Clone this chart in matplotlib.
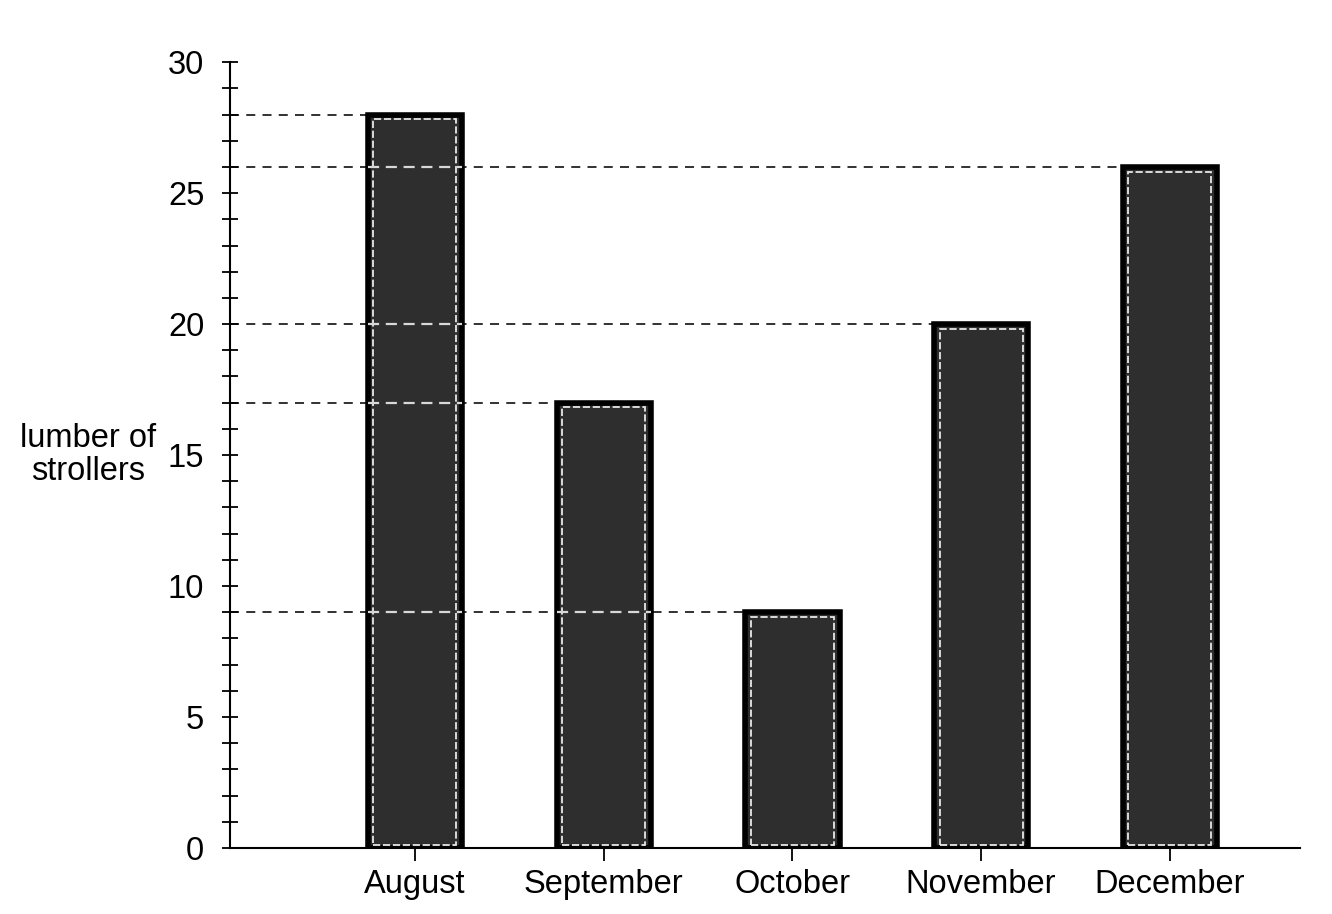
import matplotlib.pyplot as plt
from matplotlib.ticker import MultipleLocator

months = ['August', 'September', 'October', 'November', 'December']
strollers = [28, 17, 9, 20, 26]
y_ticks = [0, 5, 10, 15, 20, 25, 30]

plt.rcParams['font.family'] = ['Liberation Sans', 'DejaVu Sans']

fig = plt.figure(figsize=(13.32, 9.14), dpi=100)
ax = fig.add_axes([0.1727, 0.0722, 0.8033, 0.8598])

x = list(range(1, len(months) + 1))
bar_w = 0.5

# bars: dark fill, black outline, thin white inner line
ax.bar(x, strollers, width=bar_w, color='#2e2e2e', edgecolor='black',
       linewidth=4, zorder=2)
ax.bar(x, [v - 0.3 for v in strollers], bottom=0.12, width=bar_w - 0.06,
       fill=False, edgecolor='#e8e8e8', linewidth=1.3, linestyle=(0, (4, 1.5)),
       zorder=3)

# dashed guide lines from axis to each bar top
for xi, v in zip(x, strollers):
    left = xi - bar_w / 2
    ax.hlines(v, 0.02, left, colors='#222222', linestyles=(0, (5, 4)),
              linewidth=1.3, zorder=1)
    # where the line passes through taller bars it shows light
    for xj, vj in zip(x, strollers):
        if xj < xi and vj > v:
            ax.hlines(v, xj - bar_w / 2, xj + bar_w / 2, colors='#d8d8d8',
                      linestyles=(0, (5, 3)), linewidth=1.6, zorder=4)

ax.set_xlim(0.02, 5.69)
ax.set_ylim(0, 30)
ax.set_xticks(x)
ax.set_xticklabels(months)
ax.set_yticks(y_ticks)
ax.yaxis.set_minor_locator(MultipleLocator(1))

for s in ['top', 'right']:
    ax.spines[s].set_visible(False)
ax.spines['left'].set_linewidth(1.5)
ax.spines['bottom'].set_linewidth(1.5)

ax.tick_params(axis='y', which='both', direction='inout', length=11,
               width=1.3, labelsize=23.5, pad=13, colors='black')
ax.tick_params(axis='x', direction='out', length=9, width=1.3,
               labelsize=23.5, pad=6)

fig.text(88 / 1332, 1 - 455 / 914, 'lumber of\nstrollers', ha='center',
         va='center', fontsize=23.5, linespacing=1.05)

fig.savefig('out.png', dpi=100)
